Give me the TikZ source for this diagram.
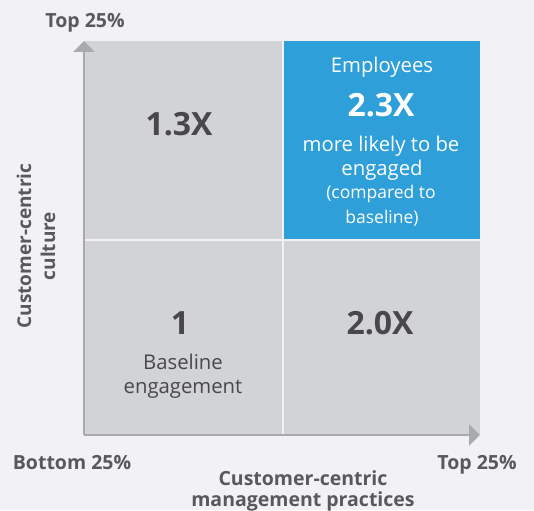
\documentclass[tikz,border=0pt]{standalone}
\usepackage{fontspec}
\setmainfont{Open Sans}
\usetikzlibrary{arrows.meta}
\definecolor{bgc}{HTML}{F2F2F4}
\definecolor{boxgray}{HTML}{D2D3D5}
\definecolor{boxblue}{HTML}{2E9FD8}
\definecolor{axisgray}{HTML}{A9AAAD}
\definecolor{txtdark}{HTML}{48484A}
\definecolor{lbl}{HTML}{58595B}
\tikzset{
  quad/.style={draw=none, inner sep=0pt, anchor=north west},
  axisline/.style={draw=axisgray, line width=2.2pt, -{Triangle[width=21pt,length=11pt]}},
  axlbl/.style={font=\fontsize{19.5}{20}\selectfont\bfseries, text=lbl, anchor=base, inner sep=0pt},
  bignum/.style={font=\fontsize{32}{34}\selectfont\bfseries, anchor=base, inner sep=0pt},
  bodytxt/.style={font=\fontsize{20.3}{23}\selectfont, anchor=base, inner sep=0pt},
  smalltxt/.style={font=\fontsize{17.5}{23}\selectfont, anchor=base, inner sep=0pt},
}
\begin{document}
\begin{tikzpicture}[x=1pt,y=-1pt]
\fill[bgc] (0,0) rectangle (534,510);
\useasboundingbox (0,0) rectangle (534,510);
% quadrants
\node[quad, fill=boxgray, minimum width=198pt, minimum height=198pt] (tl) at (84,41) {};
\node[quad, fill=boxblue, minimum width=196pt, minimum height=198pt] (tr) at (284,41) {};
\node[quad, fill=boxgray, minimum width=198pt, minimum height=194pt] (bl) at (84,241) {};
\node[quad, fill=boxgray, minimum width=196pt, minimum height=194pt] (br) at (284,241) {};
% axes
\coordinate (origin) at (84,435);
\coordinate (ytop) at (84,41);
\coordinate (xend) at (480,435);
\draw[axisline] (origin) -- (ytop);
\draw[axisline] (origin) -- (xend);
% quadrant texts
\node[bignum, text=txtdark] (n13) at (179,136) {1.3X};
\node[bodytxt, text=white] (emp) at (382,73) {Employees};
\node[bignum, text=white] (n23) at (381,117) {2.3X};
\node[bodytxt, text=white] (ml1) at (381,152) {more likely to be};
\node[bodytxt, text=white] (ml2) at (382,176) {engaged};
\node[smalltxt, text=white] (cp1) at (381,199) {(compared to};
\node[smalltxt, text=white] (cp2) at (382,223) {baseline)};
\node[bignum, text=txtdark] (n1) at (180,334) {1};
\node[bodytxt, text=txtdark] (bl1) at (183,369) {Baseline};
\node[bodytxt, text=txtdark] (bl2) at (183,393) {engagement};
\node[bignum, text=txtdark] (n20) at (380,334) {2.0X};
% axis labels
\node[axlbl] (ytoplbl) at (85,28) {Top 25\%};
\node[axlbl] (xbot) at (72,469) {Bottom 25\%};
\node[axlbl] (xtoplbl) at (477,469) {Top 25\%};
\node[axlbl] (xt1) at (303,485) {Customer-centric};
\node[axlbl] (xt2) at (303,506) {management practices};
\node[font=\fontsize{19}{24}\selectfont\bfseries, text=lbl, rotate=90, align=center, inner sep=0pt] (ylbl) at (36,246) {Customer-centric\\culture};
\end{tikzpicture}
\end{document}
